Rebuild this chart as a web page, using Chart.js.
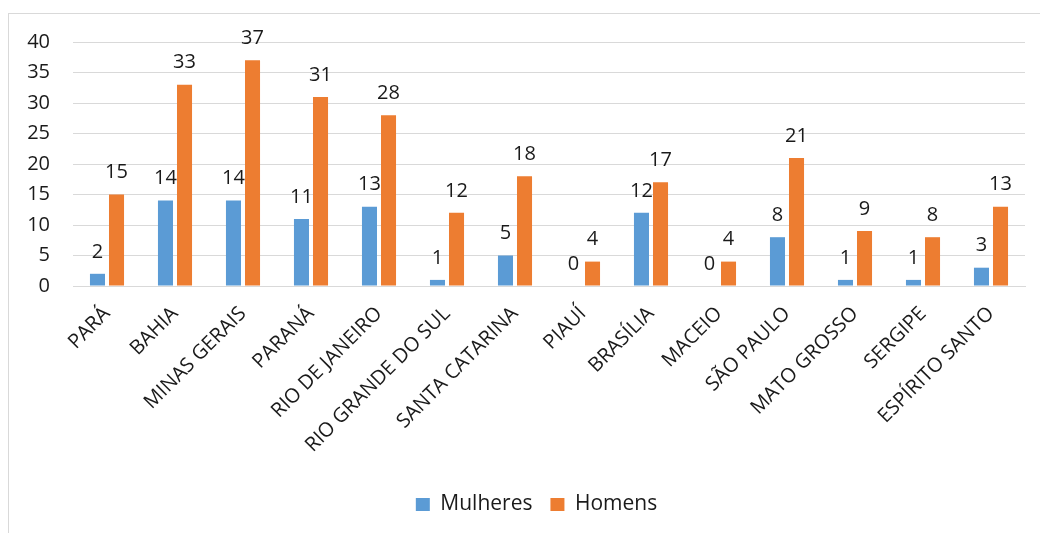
<!DOCTYPE html>
<html>
<head>
<meta charset="utf-8">
<script src="https://cdn.jsdelivr.net/npm/chart.js@4/dist/chart.umd.min.js"></script>
<style>
  html, body { margin: 0; padding: 0; background: #fff; }
  #wrap { width: 1040px; height: 533px; position: relative; }
</style>
</head>
<body>
<div id="wrap"><canvas id="chart" width="1040" height="533"></canvas></div>
<script>
const estados = ["PARÁ", "BAHIA", "MINAS GERAIS", "PARANÁ", "RIO DE JANEIRO", "RIO GRANDE DO SUL",
  "SANTA CATARINA", "PIAUÍ", "BRASÍLIA", "MACEIO", "SÃO PAULO", "MATO GROSSO", "SERGIPE", "ESPÍRITO SANTO"]
const mulheres = [2, 14, 14, 11, 13, 1, 5, 0, 12, 0, 8, 1, 1, 3]
const homens = [15, 33, 37, 31, 28, 12, 18, 4, 17, 4, 21, 9, 8, 13]
const yTicks = [0, 5, 10, 15, 20, 25, 30, 35, 40]

const fontFam = "'Open Sans', sans-serif"
const textColor = "#1a1a1a"

// outer frame of the chart, like the excel chart border
const framePlugin = {
  id: "frame",
  beforeDraw: (chart) => {
    const ctx = chart.ctx
    ctx.save()
    ctx.strokeStyle = "#d9d9d9"
    ctx.lineWidth = 1
    ctx.strokeRect(8.5, 13.5, 1100, 600)
    ctx.restore()
  }
}

// nudge the legend a bit right, excel centres it on a different box
const legendShift = {
  id: "legendShift",
  afterLayout: (chart) => {
    if (chart.legend) {
      chart.legend.left += 19
      chart.legend.right += 19
    }
  }
}

// value labels above each bar
const labelsPlugin = {
  id: "valueLabels",
  afterDatasetsDraw: (chart) => {
    const ctx = chart.ctx
    ctx.save()
    ctx.font = `20px ${fontFam}`
    ctx.fillStyle = textColor
    ctx.textAlign = "center"
    ctx.textBaseline = "bottom"
    chart.data.datasets.forEach((ds, i) => {
      chart.getDatasetMeta(i).data.forEach((bar, j) => {
        ctx.fillText(ds.data[j], bar.x, bar.y - 12)
      })
    })
    ctx.restore()
  }
}

const ctx = document.getElementById("chart").getContext("2d")
new Chart(ctx, {
  type: "bar",
  data: {
    labels: estados,
    datasets: [
      { label: "Mulheres", data: mulheres, backgroundColor: "#5B9BD5", categoryPercentage: 0.56, barPercentage: 0.79 },
      { label: "Homens", data: homens, backgroundColor: "#ED7D31", categoryPercentage: 0.56, barPercentage: 0.79 }
    ]
  },
  options: {
    responsive: false,
    animation: false,
    layout: { padding: { top: 42, right: 15, left: 10, bottom: 8 } },
    plugins: {
      legend: {
        position: "bottom",
        labels: {
          font: { size: 21, family: fontFam },
          color: textColor,
          boxWidth: 14,
          boxHeight: 13,
          padding: 18
        }
      },
      tooltip: { enabled: false }
    },
    scales: {
      y: {
        min: 0,
        max: 40,
        afterFit: (scale) => { scale.width = 63 },
        afterBuildTicks: (scale) => { scale.ticks = yTicks.map(v => ({ value: v })) },
        border: { display: false },
        grid: { color: "#d9d9d9", drawTicks: false },
        ticks: { font: { size: 20, family: fontFam }, color: textColor, padding: 23 }
      },
      x: {
        afterFit: (scale) => { scale.height = 190 },
        border: { color: "#d9d9d9" },
        grid: { display: false },
        ticks: {
          font: { size: 20, family: fontFam },
          color: textColor,
          minRotation: 45,
          maxRotation: 45,
          autoSkip: false,
          padding: 8
        }
      }
    }
  },
  plugins: [framePlugin, legendShift, labelsPlugin]
})
</script>
</body>
</html>
